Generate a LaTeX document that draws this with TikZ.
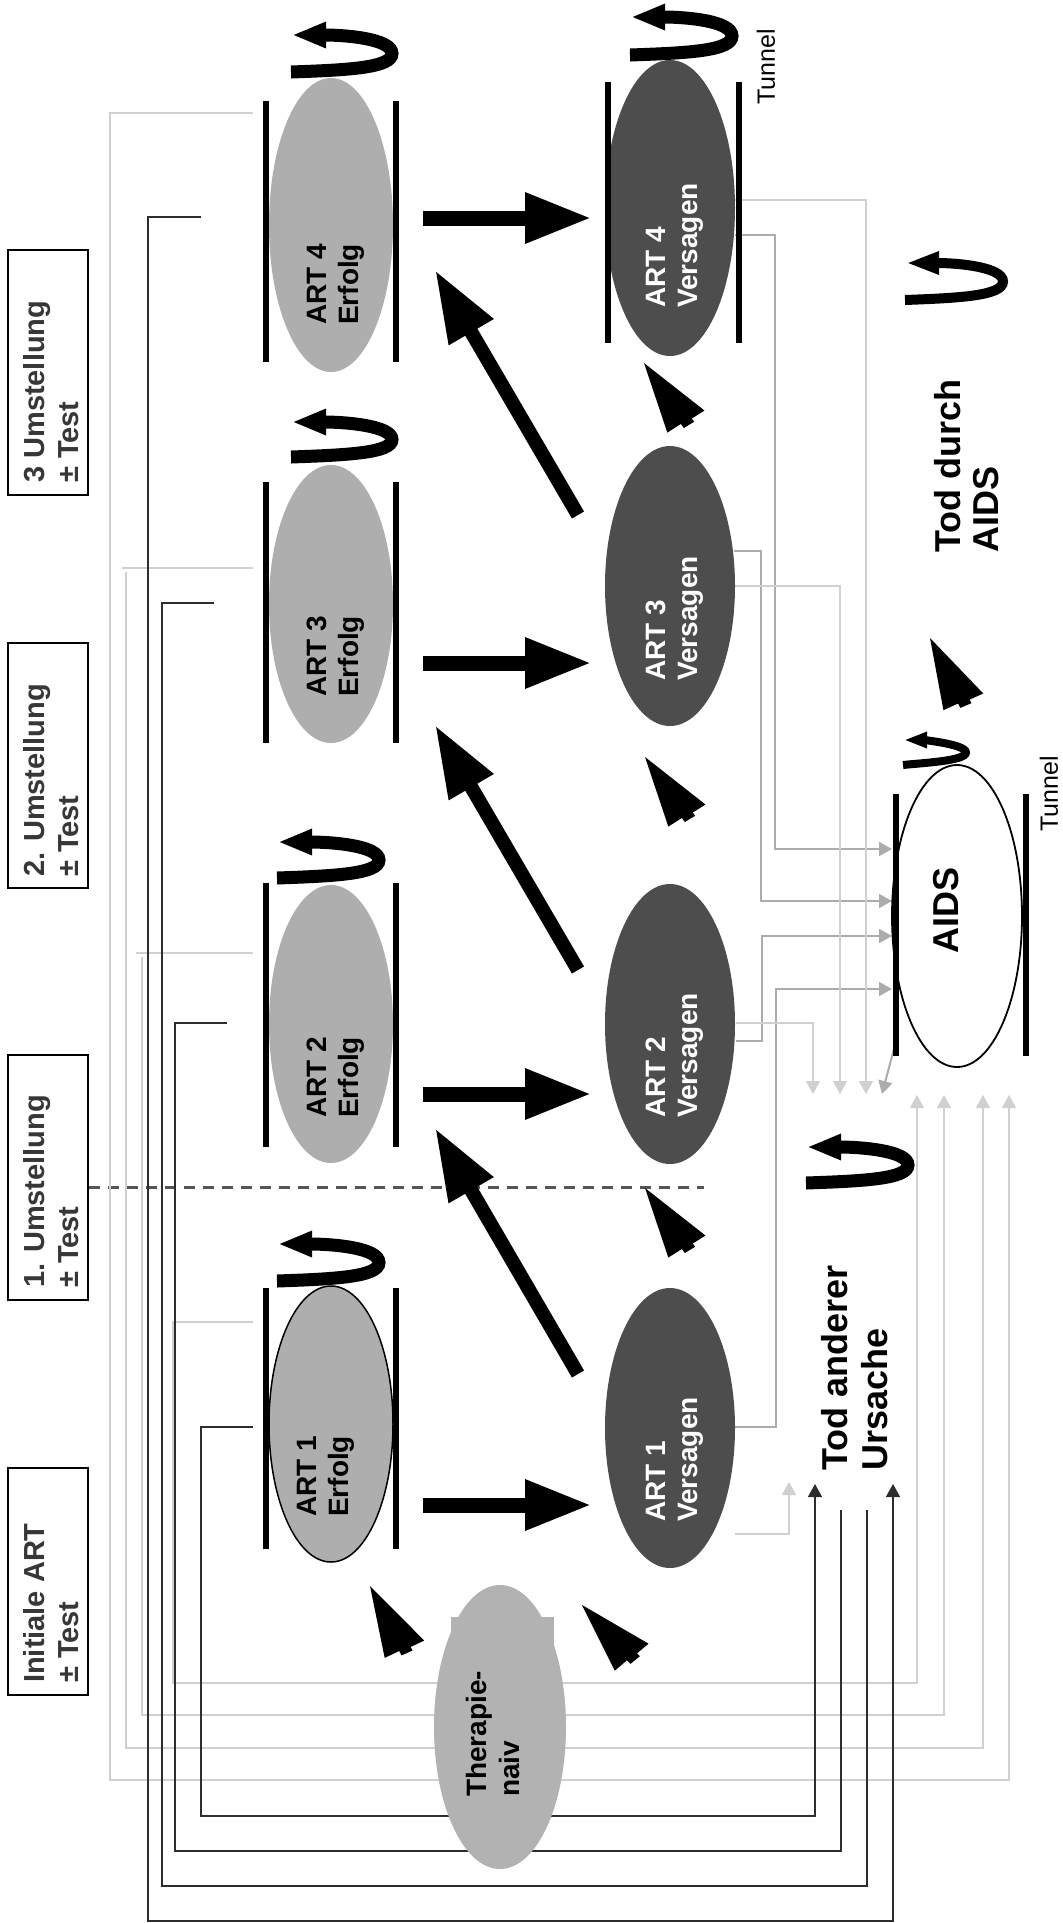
\documentclass[tikz,border=0pt]{standalone}
\usepackage{fontspec}
\setmainfont{Liberation Sans}
\usetikzlibrary{arrows.meta,shapes.geometric,calc}
\definecolor{erf}{RGB}{174,174,174}
\definecolor{ver}{RGB}{77,77,77}
\definecolor{thn}{RGB}{178,178,178}
\definecolor{lgray}{RGB}{208,208,208}
\definecolor{mgray}{RGB}{172,172,172}
\definecolor{dline}{RGB}{45,45,45}
\definecolor{boxtxt}{RGB}{55,55,55}
\definecolor{dashc}{RGB}{85,85,85}
% dart-shaped arrowhead: #1 x, #2 y of tip, #3 back angle
\newcommand\dart[3]{%
  \pgfmathsetmacro\dA{#3+90}\pgfmathsetmacro\dB{#3-90}%
  \fill (#1,#2) -- ($(#1,#2)+(#3:70)+(\dA:22)$) -- ($(#1,#2)+(#3:71)+(\dA:6)$)
    -- ($(#1,#2)+(#3:76)+(\dA:6)$) -- ($(#1,#2)+(#3:77)+(\dB:6)$)
    -- ($(#1,#2)+(#3:73)+(\dB:6)$) -- ($(#1,#2)+(#3:74)+(\dB:21)$) -- cycle;}
% self loop: [style] left x, tip y, right x, bottom y
\newcommand\sloop[5][sloopst]{%
  \draw[#1] (#2,#5) .. controls ({#4-45},{#5-2}) and (#4,{#5-4}) .. (#4,{(#3+#5)/2})
    .. controls (#4,{#3+4}) and ({#4-45},#3) .. ({#2+1},#3);}
\begin{document}
\begin{tikzpicture}[x=1pt,y=-1pt,
  erfolg/.style={ellipse,fill=erf,inner sep=0pt,minimum width=124pt},
  versagen/.style={ellipse,fill=ver,inner sep=0pt,minimum width=130pt},
  bar/.style={line width=6pt},
  thk/.style={line width=15pt,-{Triangle[length=67pt,width=47pt]}},
  thkd/.style={line width=14pt,-{Triangle[length=72pt,width=48pt]}},
  lbl/.style={rotate=90,anchor=west,align=left,inner sep=0pt,font=\bfseries\fontsize{28}{32}\selectfont},
  boxn/.style={draw=black,line width=2.2pt,inner sep=0pt},
  boxlbl/.style={rotate=90,anchor=west,align=left,inner sep=0pt,text=boxtxt,font=\bfseries\fontsize{29}{34}\selectfont},
  tunnel/.style={rotate=90,inner sep=0pt,font=\fontsize{25}{30}\selectfont},
  lc/.style={draw=lgray,line width=1.3pt},
  mc/.style={draw=mgray,line width=2pt},
  dc/.style={draw=dline,line width=1.5pt},
  tipS/.style={-{Triangle[length=13pt,width=14pt]}},
  sloopst/.style={line width=13pt,-{Triangle[length=34pt,width=24pt]}},
  tloopst/.style={line width=10pt,-{Triangle[length=33pt,width=21pt]}},
  aloopst/.style={line width=8pt,-{Triangle[length=23pt,width=15pt]}},
  dashline/.style={draw=dashc,line width=3pt,dash pattern=on 11pt off 8pt}
]
\useasboundingbox (0,0) rectangle (1063,1923);
\fill[white] (0,0) rectangle (1063,1923);

% ---------- phase boxes ----------
\node[boxn,minimum width=80pt,minimum height=245pt] (B3) at (48,372.5) {};
\node[boxn,minimum width=80pt,minimum height=245pt] (B2) at (48,765.5) {};
\node[boxn,minimum width=80pt,minimum height=245pt] (B1) at (48,1177.5) {};
\node[boxn,minimum width=80pt,minimum height=227pt] (B0) at (48,1581.5) {};
\node[boxlbl] (B3t) at (51,483) {3 Umstellung\\± Test};
\node[boxlbl] (B2t) at (51,877) {2. Umstellung\\± Test};
\node[boxlbl] (B1t) at (51,1288) {1. Umstellung\\± Test};
\node[boxlbl] (B0t) at (51,1683) {Initiale ART\\± Test};
\coordinate (dashEnd) at (704,1187);
\draw[dashline] (B1.east |- dashEnd) -- (dashEnd);

% ---------- connectors from Erfolg (light, to AIDS) ----------
\coordinate (l4) at (1009,1095);
\coordinate (l3) at (983,1095);
\coordinate (l2) at (944,1095);
\coordinate (l1) at (917,1095);
\draw[lc,tipS] (253,113) -- (110,113) -- (110,1780) -| (l4);
\draw[lc] (253,568) -- (122,568);
\draw[lc,tipS] (126,572) -- (126,1748) -| (l3);
\draw[lc] (253,953) -- (136,953);
\draw[lc,tipS] (142,957) -- (142,1715) -| (l2);
\draw[lc,tipS] (253,1322) -- (173,1322) -- (173,1683) -| (l1);

% ---------- connectors from Erfolg (dark, to Tod anderer Ursache) ----------
\coordinate (k4) at (893,1484);
\coordinate (k3) at (867,1510);
\coordinate (k2) at (841,1510);
\coordinate (k1) at (815,1484);
\draw[dc,tipS] (201,217) -- (148,217) -- (148,1921) -| (k4);
\draw[dc] (214,603) -- (162,603) -- (162,1886) -| (k3);
\draw[dc] (227,1023) -- (175,1023) -- (175,1851) -| (k2);
\draw[dc,tipS] (253,1427) -- (201,1427) -- (201,1816) -| (k1);

% ---------- connectors from Versagen (medium, to AIDS) ----------
\coordinate (a4) at (892,849);
\coordinate (a3) at (892,901);
\coordinate (a2) at (892,936);
\coordinate (a1) at (892,989);
\draw[mc,tipS] (735,235) -- (775,235) |- (a4);
\draw[mc,tipS] (734,551) -- (761,551) |- (a3);
\draw[mc,tipS] (736,1041) -- (762,1041) |- (a2);
\draw[mc,tipS] (735,1427) -- (776,1427) |- (a1);

% ---------- connectors from Versagen (light, to Tod anderer Ursache) ----------
\coordinate (t4) at (866,1094);
\coordinate (t3) at (840,1094);
\coordinate (t2) at (813,1094);
\coordinate (t1) at (789,1482);
\draw[lc,tipS] (735,200) -| (t4);
\draw[lc,tipS] (734,586) -| (t3);
\draw[lc,tipS] (736,1023) -| (t2);
\draw[lc,tipS] (735,1534) -| (t1);
\coordinate (aidsOut) at (895,1045);
\coordinate (aidsTo) at (882,1094);
\draw[mc,tipS] (aidsOut) -- (aidsTo);

% ---------- Erfolg ellipses ----------
\node[erfolg,minimum height=294pt] (E4) at (331,225) {};
\node[erfolg,minimum height=278pt] (E3) at (331,604) {};
\node[erfolg,minimum height=278pt] (E2) at (331,1024) {};
\node[erfolg,draw=black,line width=1.5pt,minimum height=276pt] (E1) at (331,1424) {};
\foreach \ya/\yb in {101/362,482/743,883/1147,1288/1549}{
  \draw[bar] (266,\ya) -- (266,\yb);
  \draw[bar] (396,\ya) -- (396,\yb);
}
\node[lbl] (E4t) at (336,325) {ART 4\\Erfolg};
\node[lbl] (E3t) at (336,697) {ART 3\\Erfolg};
\node[lbl] (E2t) at (336,1118) {ART 2\\Erfolg};
\node[lbl] (E1t) at (326,1517) {ART 1\\Erfolg};

% ---------- Versagen ellipses ----------
\node[versagen,minimum height=296pt] (V4) at (670,208) {};
\node[versagen,minimum height=280pt] (V3) at (670,586) {};
\node[versagen,minimum height=280pt] (V2) at (670,1024) {};
\node[versagen,minimum height=280pt] (V1) at (670,1428) {};
\draw[bar] (608,82) -- (608,343);
\draw[bar] (739,82) -- (739,343);
\node[lbl,text=white] (V4t) at (675,308) {ART 4\\Versagen};
\node[lbl,text=white] (V3t) at (675,681) {ART 3\\Versagen};
\node[lbl,text=white] (V2t) at (675,1118) {ART 2\\Versagen};
\node[lbl,text=white] (V1t) at (675,1522) {ART 1\\Versagen};
\node[tunnel] (tun1) at (766,67) {Tunnel};

% ---------- Therapie-naiv ----------
\node[ellipse,fill=thn,inner sep=0pt,minimum width=132pt,minimum height=284pt] (TN) at (500,1727) {};
\fill[thn] (451,1617) rectangle (554,1660);
\node[lbl,font=\bfseries\fontsize{28}{33}\selectfont] (TNt) at (493,1797) {Therapie-\\naiv};

% ---------- AIDS ----------
\node[ellipse,draw=black,fill=white,line width=1.8pt,inner sep=0pt,minimum width=130pt,minimum height=302pt] (A) at (957,916) {};
\draw[bar] (896,794) -- (896,1056);
\draw[bar] (1026,794) -- (1026,1056);
\node[rotate=90,inner sep=0pt,font=\bfseries\fontsize{36}{40}\selectfont] (At) at (946,910) {AIDS};
\node[tunnel] (tun2) at (1049,794) {Tunnel};

% ---------- absorbing states ----------
\node[lbl,font=\bfseries\fontsize{36}{40}\selectfont] (TA) at (855,1471) {Tod anderer\\Ursache};
\node[lbl,font=\bfseries\fontsize{36}{38}\selectfont] (TD) at (967,553) {Tod durch\\AIDS};

% ---------- thick transition arrows ----------
\draw[thk] (423,218) -- (592,218);
\draw[thk] (423,663) -- (592,663);
\draw[thk] (423,1094) -- (592,1094);
\draw[thk] (423,1505) -- (592,1505);
\draw[thkd] (578,515) -- (435,270);
\draw[thkd] (578,970) -- (435,725);
\draw[thkd] (578,1374) -- (435,1128);

% ---------- dart arrowheads ----------
\dart{370}{1586}{61}
\dart{582}{1605}{46}
\dart{645}{1188}{54}
\dart{645}{757}{54}
\dart{644}{363}{54}
\dart{930}{638}{62}

% ---------- self loops ----------
\sloop{291}{35}{392}{72}
\sloop{291}{422}{392}{457}
\sloop{277}{842}{379}{878}
\sloop{277}{1244}{379}{1281}
\sloop{630}{17}{732}{55}
\sloop{806}{1147}{908}{1183}
\sloop[tloopst]{905}{263}{1003}{300}
\sloop[aloopst]{903}{740}{966}{765}
\end{tikzpicture}
\end{document}
